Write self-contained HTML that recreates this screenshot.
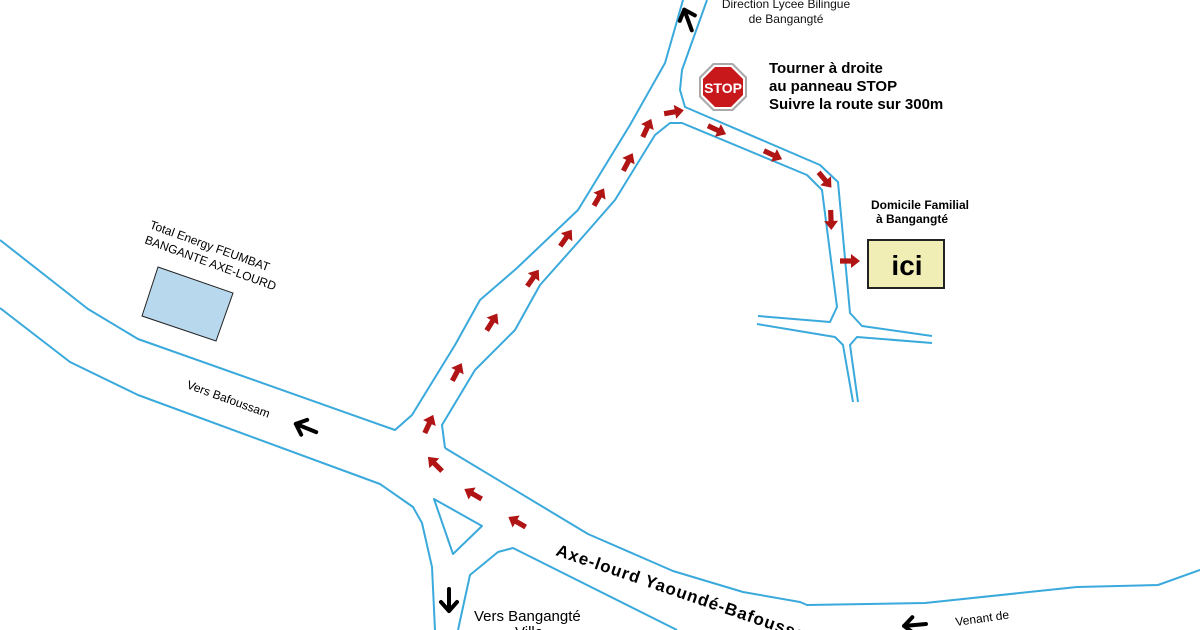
<!DOCTYPE html>
<html><head><meta charset="utf-8"><style>html,body{margin:0;padding:0;background:#fff}svg{display:block}</style></head><body>
<svg width="1200" height="630" viewBox="0 0 1200 630" xmlns="http://www.w3.org/2000/svg" font-family="Liberation Sans, Arial, sans-serif">
<defs>
<path id="ra" d="M-10,-2.6 L1,-2.6 L1,-7 L10,0 L1,7 L1,2.6 L-10,2.6 Z" fill="#b01414"/>
<path id="ba" d="M-11,0 L11,0 M-11,0 L-2,-8 M-11,0 L-2,8" stroke="#000" stroke-width="4" fill="none" stroke-linecap="round" stroke-linejoin="round"/>
</defs>
<g fill="none" stroke="#3aa9db" stroke-width="2" stroke-linejoin="round">
<polyline points="0,240 88,309 138,339 395,430 412,415 455,345 480,300 517,268 578,210 630,125 665,63 683,0"/>
<polyline points="707,0 682,70 680,90 685,107 820,165 838,182 850,313 862,326 932,336"/>
<polyline points="445,448 442,425 475,370 515,330 540,285 580,240 615,200 655,135 670,123 682,123 807,175 822,190 837,307 830,322 758,316"/>
<polyline points="445,448 588,534 673,571 743,592 800,602 807,605 925,603 1077,587 1158,585 1200,570"/>
<polyline points="0,308 70,362 138,395 380,484 413,507 422,523 432,567 435,630"/>
<polyline points="677,630 513,548 498,552 470,575 458,630"/>
<polygon points="434,499 482,526 453,554"/>
<polyline points="757,324 835,337 843,345 853,402"/>
<polyline points="932,343 857,337 850,345 858,402"/>
</g>
<polygon points="158,267 233,293 216,341 142,316" fill="#b8d8ee" stroke="#222" stroke-width="1"/>
<g>
<use href="#ra" transform="translate(429,424) rotate(-65)"/>
<use href="#ra" transform="translate(457,372) rotate(-62)"/>
<use href="#ra" transform="translate(492,322) rotate(-58)"/>
<use href="#ra" transform="translate(533,278) rotate(-55)"/>
<use href="#ra" transform="translate(566,238) rotate(-55)"/>
<use href="#ra" transform="translate(599,197) rotate(-60)"/>
<use href="#ra" transform="translate(628,162) rotate(-62)"/>
<use href="#ra" transform="translate(647,128) rotate(-65)"/>
<use href="#ra" transform="translate(674,112) rotate(-10)"/>
<use href="#ra" transform="translate(717,130) rotate(25)"/>
<use href="#ra" transform="translate(773,155) rotate(25)"/>
<use href="#ra" transform="translate(825,180) rotate(50)"/>
<use href="#ra" transform="translate(831,220) rotate(88)"/>
<use href="#ra" transform="translate(850,261) rotate(0)"/>
<use href="#ra" transform="translate(435,464) rotate(-135)"/>
<use href="#ra" transform="translate(473,494) rotate(-150)"/>
<use href="#ra" transform="translate(517,522) rotate(-150)"/>
</g>
<use href="#ba" transform="translate(306,428) rotate(22)"/>
<use href="#ba" transform="translate(688,20) rotate(70)"/>
<use href="#ba" transform="translate(449,600) rotate(-90)"/>
<use href="#ba" transform="translate(915,625) rotate(-5)"/>
<polygon points="713,63 733,63 747,77 747,97 733,111 713,111 699,97 699,77" fill="#aaa"/>
<polygon points="714,65 732,65 745,78 745,96 732,109 714,109 701,96 701,78" fill="#fff"/>
<polygon points="715,67 731,67 743,79 743,95 731,107 715,107 703,95 703,79" fill="#c8181c"/>
<text x="723" y="93" font-size="14" font-weight="bold" fill="#fff" text-anchor="middle">STOP</text>
<g font-size="15" font-weight="bold" fill="#000">
<text x="769" y="73">Tourner à droite</text>
<text x="769" y="91">au panneau STOP</text>
<text x="769" y="109">Suivre la route sur 300m</text>
</g>
<g font-size="12" fill="#111" text-anchor="middle">
<text x="786" y="8">Direction Lycee Bilingue</text>
<text x="786" y="23">de Bangangté</text>
</g>
<g font-size="12" font-weight="bold" fill="#000" text-anchor="middle">
<text x="920" y="209">Domicile Familial</text>
<text x="912" y="223">à Bangangté</text>
</g>
<rect x="868" y="240" width="76" height="48" fill="#f0eeb4" stroke="#222" stroke-width="2"/>
<text x="907" y="275" font-size="28" font-weight="bold" text-anchor="middle">ici</text>
<text transform="translate(149,228) rotate(20)" font-size="12">Total Energy FEUMBAT</text>
<text transform="translate(144,243) rotate(20)" font-size="12">BANGANTE AXE-LOURD</text>
<text transform="translate(186,388) rotate(20)" font-size="12">Vers Bafoussam</text>
<text transform="translate(555,555) rotate(19)" font-size="17" font-weight="bold" letter-spacing="1">Axe-lourd Yaoundé-Bafoussam</text>
<text x="474" y="621" font-size="15">Vers Bangangté</text>
<text x="515" y="637" font-size="15">Ville</text>
<text transform="translate(956,626) rotate(-8)" font-size="12">Venant de</text>
</svg>
</body></html>
